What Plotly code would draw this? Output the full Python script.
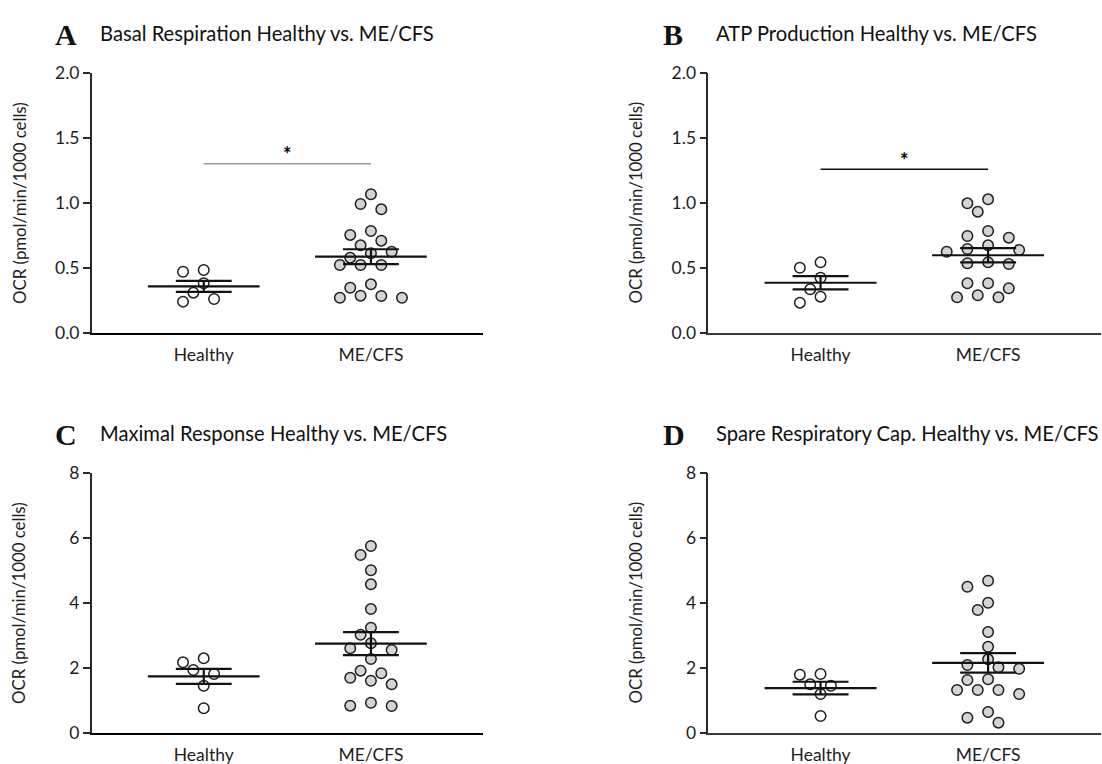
import plotly.graph_objects as go
import math

# ---------------- data ----------------
categories = ["Healthy", "ME/CFS"]
panel_letters = ["A", "B", "C", "D"]
panel_titles = [
    "Basal Respiration Healthy vs. ME/CFS",
    "ATP Production Healthy vs. ME/CFS",
    "Maximal Response Healthy vs. ME/CFS",
    "Spare Respiratory Cap. Healthy vs. ME/CFS",
]
y_axis_title = "OCR (pmol/min/1000 cells)"

basal_healthy = [0.482, 0.469, 0.380, 0.308, 0.239, 0.259]
basal_mecfs = [1.065, 0.990, 0.949, 0.752, 0.782, 0.708, 0.672, 0.611, 0.623, 0.577,
               0.521, 0.521, 0.521, 0.346, 0.372, 0.269, 0.282, 0.285, 0.269]

atp_healthy = [0.541, 0.500, 0.423, 0.334, 0.277, 0.231]
atp_mecfs = [1.026, 0.995, 0.931, 0.744, 0.782, 0.731, 0.672, 0.623, 0.636, 0.644,
             0.534, 0.528, 0.541, 0.380, 0.341, 0.380, 0.272, 0.272, 0.288]

maximal_healthy = [2.166, 2.289, 1.806, 1.929, 1.446, 0.751]
maximal_mecfs = [5.745, 5.468, 4.997, 4.566, 3.806, 3.231, 3.015, 2.751, 2.597, 2.545,
                 2.268, 1.908, 1.828, 1.489, 1.692, 1.600, 0.822, 0.923, 0.831]

spare_healthy = [1.806, 1.785, 1.489, 1.446, 1.191, 0.514]
spare_mecfs = [4.677, 4.492, 4.000, 3.775, 3.098, 2.646, 2.258, 1.969, 2.012, 2.083,
               1.622, 1.643, 1.314, 1.191, 1.314, 1.314, 0.637, 0.308, 0.462]

yticks_small = [0, 0.5, 1.0, 1.5, 2.0]
yticklabels_small = ["0.0", "0.5", "1.0", "1.5", "2.0"]
yticks_large = [0, 2, 4, 6, 8]
yticklabels_large = ["0", "2", "4", "6", "8"]

significance = ["*", "*", None, None]
sig_bar_y = [1.30, 1.257, None, None]

# ---------------- layout geometry ----------------
W, H = 1102, 764
X_RANGE = [-0.67, 1.672]
panels = [
    dict(x0=91.7, x1=483.3, y0=72.7, y1=332.7, ymax=2.0, letter_x=66.0, title_x=98.0),
    dict(x0=708.3, x1=1100.7, y0=72.7, y1=332.7, ymax=2.0, letter_x=672.5, title_x=714.0),
    dict(x0=91.7, x1=483.3, y0=472.7, y1=732.7, ymax=8.0, letter_x=66.0, title_x=98.0),
    dict(x0=708.3, x1=1100.7, y0=472.7, y1=732.7, ymax=8.0, letter_x=673.5, title_x=714.0),
]
datasets = [
    (basal_healthy, basal_mecfs),
    (atp_healthy, atp_mecfs),
    (maximal_healthy, maximal_mecfs),
    (spare_healthy, spare_mecfs),
]

FONT = "Lato"
DARK = "#1e1e1e"


def swarm_offsets(values, px_per_x, px_per_y, half_step_px=10.35, min_dist_px=12.5):
    """Simple deterministic beeswarm on a half-step grid."""
    order = sorted(range(len(values)), key=lambda i: -values[i])
    cands = [0]
    for n in range(1, 30):
        cands += [-n, n]
    placed = []
    offs = [0.0] * len(values)
    for i in order:
        y = values[i] * px_per_y
        for c in cands:
            x = c * half_step_px
            if all((x - px) ** 2 + (y - py) ** 2 >= min_dist_px ** 2 for px, py in placed):
                break
        placed.append((x, y))
        offs[i] = x / px_per_x
    return offs


def mean_sem(v):
    n = len(v)
    m = sum(v) / n
    sd = math.sqrt(sum((a - m) ** 2 for a in v) / (n - 1))
    return m, sd / math.sqrt(n)


fig = go.Figure()
annotations = []
layout_axes = {}

for p, (geo, (hv, mv)) in enumerate(zip(panels, datasets)):
    idx = "" if p == 0 else str(p + 1)
    xa, ya = "x" + idx, "y" + idx
    px_per_x = (geo["x1"] - geo["x0"]) / (X_RANGE[1] - X_RANGE[0])
    px_per_y = (geo["y1"] - geo["y0"]) / geo["ymax"]

    for g, (vals, fill) in enumerate([(hv, "#ffffff"), (mv, "#d4d4d4")]):
        offs = swarm_offsets(vals, px_per_x, px_per_y)
        fig.add_trace(go.Scatter(
            x=[g + o for o in offs], y=vals, mode="markers", xaxis=xa, yaxis=ya,
            marker=dict(symbol="circle", size=10.5, color=fill,
                        line=dict(color=DARK, width=1.5)),
            cliponaxis=False, showlegend=False, hoverinfo="skip"))

    # mean and SEM bars
    for g, vals in enumerate([hv, mv]):
        m, s = mean_sem(vals)
        xs = [g - 0.334, g + 0.334, None,
              g - 0.167, g + 0.167, None,
              g - 0.167, g + 0.167, None,
              g, g]
        ys = [m, m, None, m + s, m + s, None, m - s, m - s, None, m - s, m + s]
        fig.add_trace(go.Scatter(
            x=xs, y=ys, mode="lines", xaxis=xa, yaxis=ya,
            line=dict(color="#111111", width=2.2), cliponaxis=False,
            showlegend=False, hoverinfo="skip"))

    # significance
    if significance[p]:
        fig.add_trace(go.Scatter(
            x=[0, 1], y=[sig_bar_y[p], sig_bar_y[p]], mode="lines", xaxis=xa, yaxis=ya,
            line=dict(color="#9a9a9a" if p == 0 else "#111111", width=1.4),
            showlegend=False, hoverinfo="skip"))
        annotations.append(dict(
            x=0.5, y=sig_bar_y[p] + 0.075, xref=xa, yref=ya,
            text="<b>%s</b>" % significance[p],
            showarrow=False, font=dict(family=FONT, size=20, color="#000000"),
            xanchor="center", yanchor="middle"))

    small = geo["ymax"] <= 2
    layout_axes["xaxis" + idx] = dict(
        domain=[geo["x0"] / W, geo["x1"] / W], anchor=ya, range=X_RANGE,
        tickvals=[0, 1], ticktext=categories, showgrid=False, zeroline=False,
        showline=True, linecolor="#000000" if p % 2 == 0 else "#3a3a3a",
        linewidth=2.4 if p % 2 == 0 else 1.8, automargin=False,
        ticks="outside", ticklen=5, tickcolor="rgba(0,0,0,0)",
        tickfont=dict(family=FONT, size=17.5, color=DARK), fixedrange=True)
    layout_axes["yaxis" + idx] = dict(
        domain=[1 - geo["y1"] / H, 1 - geo["y0"] / H], anchor=xa,
        range=[0, geo["ymax"]], automargin=False,
        tickvals=yticks_small if small else yticks_large,
        ticktext=yticklabels_small if small else yticklabels_large,
        showgrid=False, zeroline=False, showline=True, linecolor="#2a2a2a",
        linewidth=1.5, ticks="outside", ticklen=7, tickwidth=1.5, tickcolor="#2a2a2a",
        tickfont=dict(family=FONT, size=17.5, color=DARK), fixedrange=True)

    # panel letter, title and y-axis title
    top = geo["y0"] - 40.7
    annotations.append(dict(
        x=geo["letter_x"] / W, y=1 - (top + 2.0) / H, xref="paper", yref="paper",
        text="<b>%s</b>" % panel_letters[p], showarrow=False,
        font=dict(family="Liberation Serif", size=30, color="#111"),
        xanchor="center", yanchor="middle"))
    annotations.append(dict(
        x=geo["title_x"] / W, y=1 - (top + 1.0) / H, xref="paper", yref="paper",
        text=panel_titles[p], showarrow=False,
        font=dict(family=FONT, size=20.2, color="#111"),
        xanchor="left", yanchor="middle"))
    annotations.append(dict(
        x=(geo["x0"] - 72.5) / W, y=1 - ((geo["y0"] + geo["y1"]) / 2) / H,
        xref="paper", yref="paper", text=y_axis_title, textangle=-90,
        showarrow=False, font=dict(family=FONT, size=16.8, color=DARK),
        xanchor="center", yanchor="middle"))

fig.update_layout(
    template="none",
    width=W, height=H, autosize=False,
    margin=dict(l=0, r=0, t=0, b=0, pad=0, autoexpand=False),
    paper_bgcolor="white", plot_bgcolor="white",
    annotations=annotations, showlegend=False,
    **layout_axes)

fig.write_html(
    "out.html",
    config={"displayModeBar": False, "responsive": False},
    post_script="document.body.style.margin='0';document.body.style.overflow='hidden';")
